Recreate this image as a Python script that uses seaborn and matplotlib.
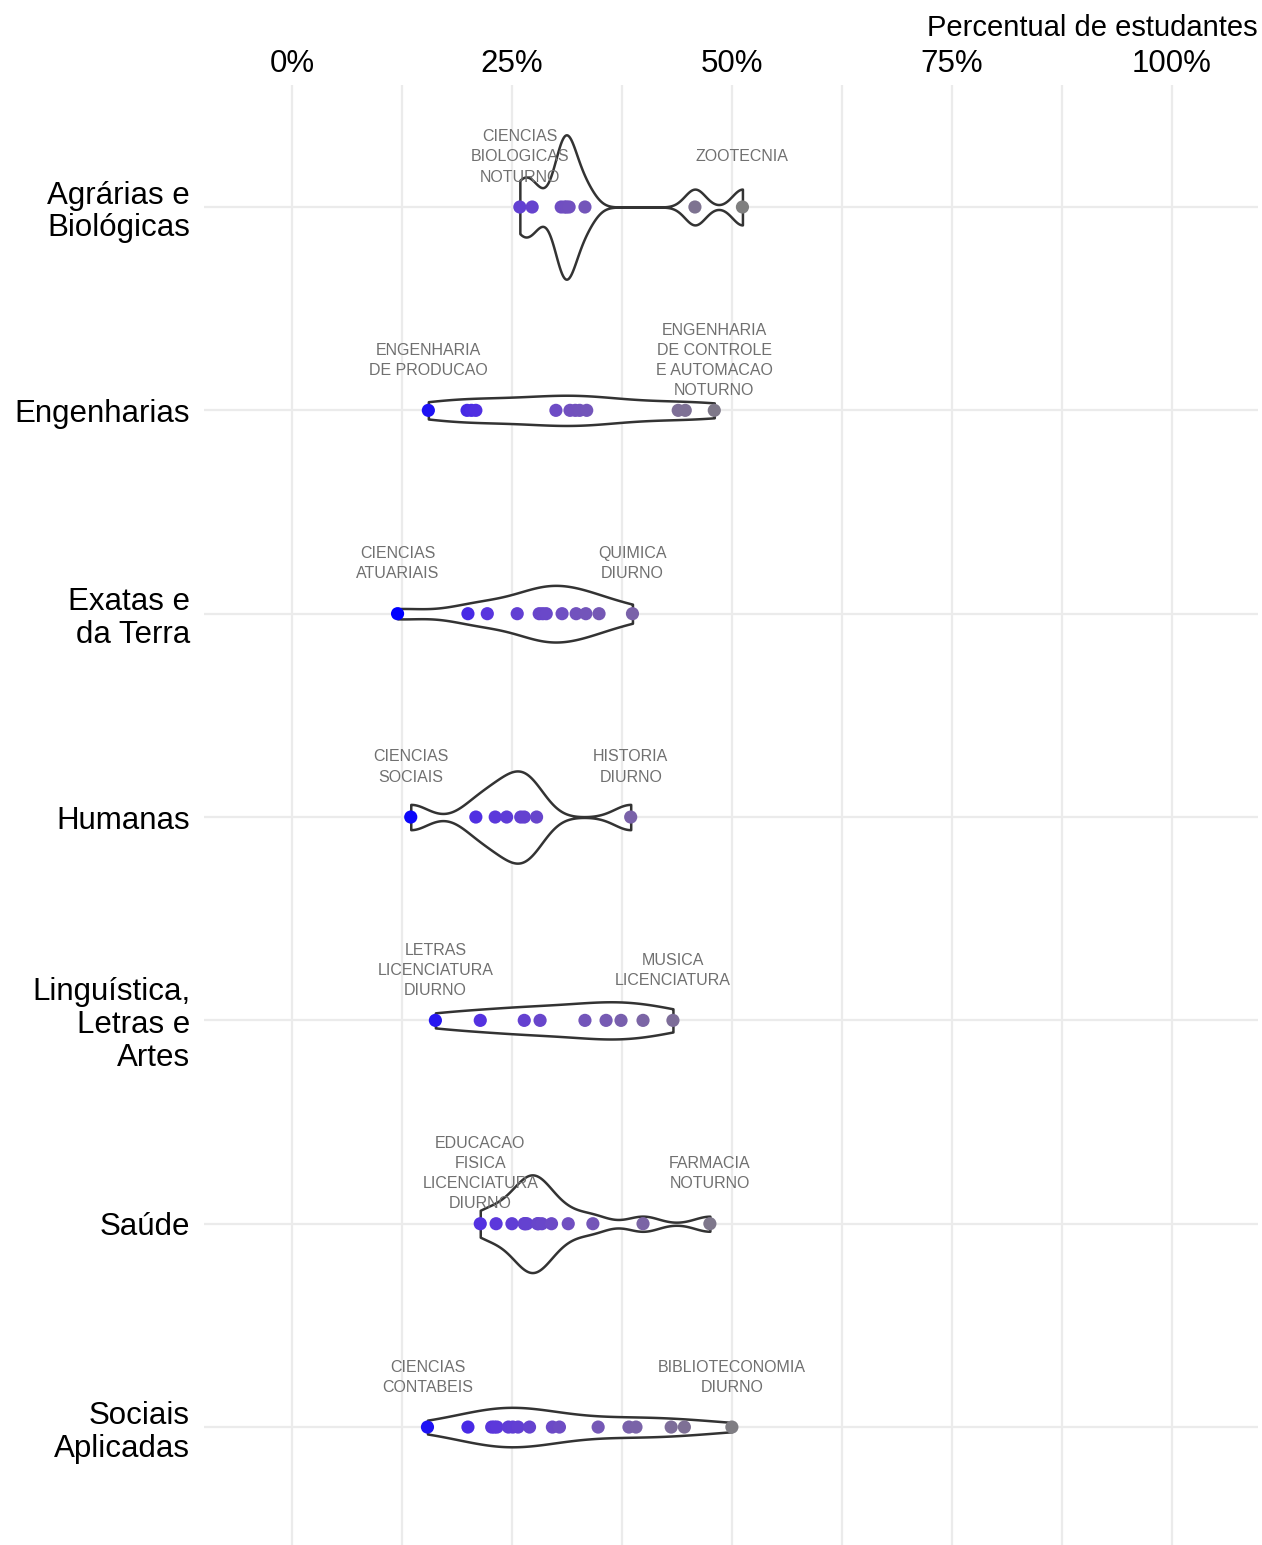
import numpy as np
import pandas as pd
import matplotlib.pyplot as plt
import seaborn as sns
from matplotlib.colors import LinearSegmentedColormap
from matplotlib.ticker import FuncFormatter

# percent of students per course, grouped by knowledge area
areas = ["Agrárias e\nBiológicas", "Engenharias", "Exatas e\nda Terra", "Humanas",
         "Linguística,\nLetras e\nArtes", "Saúde", "Sociais\nAplicadas"]

agrarias = [25.9, 27.3, 30.6, 31.0, 31.2, 31.5, 33.3, 45.8, 51.2]
engenharias = [15.5, 19.9, 20.4, 20.9, 30.0, 31.6, 32.2, 32.7, 33.5, 43.9, 44.7, 48.0]
exatas = [12.0, 20.0, 22.2, 25.6, 28.1, 28.5, 28.9, 30.7, 32.3, 33.4, 34.9, 38.7]
humanas = [13.5, 20.9, 23.1, 24.4, 26.0, 26.4, 27.8, 38.5]
linguistica = [16.3, 21.4, 26.4, 28.2, 33.3, 35.7, 37.4, 39.9, 43.3]
saude = [21.4, 23.2, 25.0, 26.4, 26.5, 26.7, 27.9, 28.0, 28.4, 29.5, 31.4, 34.2, 39.9, 47.5]
sociais = [15.4, 20.0, 22.7, 23.0, 23.3, 24.6, 25.1, 25.7, 27.0, 29.6, 30.4, 34.8,
           38.3, 39.1, 43.1, 44.6, 50.0]

# course names shown at the lowest / highest point of each area
min_labels = ["CIENCIAS\nBIOLOGICAS\nNOTURNO", "ENGENHARIA\nDE PRODUCAO", "CIENCIAS\nATUARIAIS",
              "CIENCIAS\nSOCIAIS", "LETRAS\nLICENCIATURA\nDIURNO",
              "EDUCACAO\nFISICA\nLICENCIATURA\nDIURNO", "CIENCIAS\nCONTABEIS"]
max_labels = ["ZOOTECNIA", "ENGENHARIA\nDE CONTROLE\nE AUTOMACAO\nNOTURNO", "QUIMICA\nDIURNO",
              "HISTORIA\nDIURNO", "MUSICA\nLICENCIATURA", "FARMACIA\nNOTURNO",
              "BIBLIOTECONOMIA\nDIURNO"]

values = [agrarias, engenharias, exatas, humanas, linguistica, saude, sociais]
df = pd.DataFrame([(a, i, v) for i, (a, vals) in enumerate(zip(areas, values)) for v in vals],
                  columns=["area", "ypos", "pct"])


def nrd0(kde):
    '''bandwidth factor like R's bw.nrd0'''
    x = kde.dataset.ravel()
    sd = x.std(ddof=1)
    iqr = np.subtract(*np.percentile(x, [75, 25]))
    lo = min(sd, iqr / 1.34) if iqr > 0 else sd
    return 0.9 * lo * len(x) ** -0.2 / sd


# blue -> gray50, interpolated like ggplot's Lab gradient
cmap = LinearSegmentedColormap.from_list(
    "bluegray", ["#0000FF", "#5834DF", "#7150C0", "#7D69A0", "#7F7F7F"])

sns.set_theme(style="white")
plt.rcParams['font.family'] = ['Liberation Sans', 'DejaVu Sans']

fig = plt.figure(figsize=(12.62, 15.45), dpi=100)
ax = fig.add_axes([204 / 1262, 0, 1054 / 1262, 1460 / 1545])

sns.violinplot(data=df, x="pct", y="area", order=areas, orient="h", cut=0,
               density_norm="area", bw_method=nrd0, gridsize=512,
               inner=None, color="white", saturation=1, linecolor="#333333",
               linewidth=1.8, width=0.71, ax=ax, zorder=2)

sns.scatterplot(data=df, x="pct", y="ypos", hue="pct", palette=cmap,
                hue_norm=(df.pct.min(), df.pct.max()), s=90, linewidth=0,
                legend=False, ax=ax, zorder=3)

for i, vals in enumerate(values):
    for v, lab in ((min(vals), min_labels[i]), (max(vals), max_labels[i])):
        ax.text(v, i - 0.246, lab, ha="center", va="center", fontsize=11.5,
                color="#707070", linespacing=1.42, zorder=4)

ax.set_xlim(-10, 109.8)
ax.set_ylim(6.58, -0.6)
ax.set_yticks(range(len(areas)))
ax.set_yticklabels(areas, linespacing=1.13)
ax.set_xticks([0, 25, 50, 75, 100])
ax.set_xticks([12.5, 37.5, 62.5, 87.5], minor=True)
ax.xaxis.set_major_formatter(FuncFormatter(lambda v, p: "{:.0f}%".format(v)))
ax.xaxis.tick_top()
ax.xaxis.set_label_position("top")
ax.set_xlabel("Percentual de estudantes", loc="right", fontsize=21, labelpad=9.5,
              color="black")
ax.set_ylabel("")
ax.tick_params(axis="both", which="both", length=0, labelsize=22.5, colors="black")
ax.tick_params(axis="x", pad=4.5)
ax.tick_params(axis="y", pad=10)

ax.grid(True, which="major", color="#EBEBEB", linewidth=1.6)
ax.grid(True, which="minor", axis="x", color="#EBEBEB", linewidth=1.6)
ax.set_axisbelow(True)
for s in ax.spines.values():
    s.set_visible(False)

plt.savefig("out.png", dpi=100)
